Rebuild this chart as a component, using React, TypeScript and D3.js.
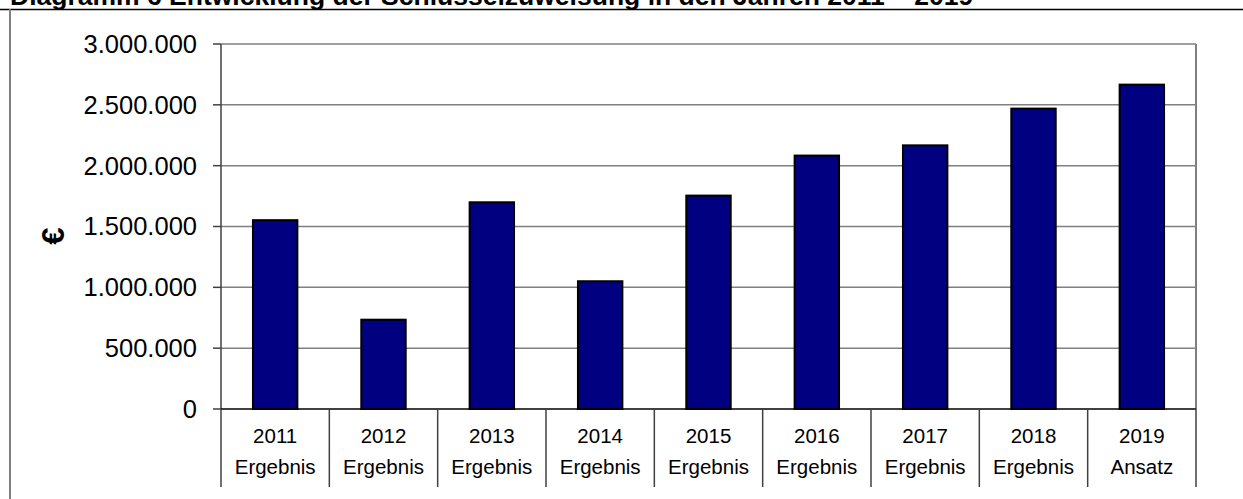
import React from "react";
import * as d3 from "d3";

// Schlüsselzuweisung per year (EUR)
const years = ["2011", "2012", "2013", "2014", "2015", "2016", "2017", "2018", "2019"];
const kinds = ["Ergebnis", "Ergebnis", "Ergebnis", "Ergebnis", "Ergebnis", "Ergebnis", "Ergebnis", "Ergebnis", "Ansatz"];
const values = [1552000, 734000, 1699000, 1050000, 1754000, 2083000, 2167000, 2469000, 2666000];
const yTicks = [0, 500000, 1000000, 1500000, 2000000, 2500000, 3000000];

const title = "Diagramm 6 Entwicklung der Schlüsselzuweisung in den Jahren 2011 – 2019";

const W = 1243;
const H = 499;
const plot = { left: 221, right: 1196, top: 44, bottom: 409 };

const fmt = (v: number) => d3.format(",")(v).replace(/,/g, ".");

export default function App() {
  const x = d3.scaleBand<string>().domain(years).range([plot.left, plot.right]).padding(0);
  const y = d3.scaleLinear().domain([0, 3000000]).range([plot.bottom, plot.top]);
  const step = x.step();
  const barW = step * 0.41;
  const font = "'Liberation Sans', Arial, sans-serif";

  return (
    <svg
      width={W}
      height={H}
      style={{ position: "absolute", left: 0, top: 0, background: "#fff" }}
      fontFamily={font}
    >
      {/* title, partly cut off at the top */}
      <text x={10} y={5} fontSize={26.5} fontWeight="bold" fill="#000">
        {title}
      </text>
      <line x1={0} x2={W} y1={9.5} y2={9.5} stroke="#000" strokeWidth={1.5} />
      <line x1={10} x2={10} y1={9} y2={H} stroke="#808080" strokeWidth={2} />

      {/* gridlines */}
      {yTicks.slice(1).map((t) => (
        <line key={t} x1={plot.left} x2={plot.right} y1={y(t)} y2={y(t)} stroke="#808080" strokeWidth={1.5} />
      ))}
      {/* plot border right */}
      <line x1={plot.right} x2={plot.right} y1={plot.top} y2={plot.bottom} stroke="#808080" strokeWidth={2} />

      {/* bars */}
      {years.map((yr, i) => {
        const cx = (x(yr) as number) + step / 2;
        return (
          <rect
            key={yr}
            x={cx - barW / 2}
            y={y(values[i])}
            width={barW}
            height={plot.bottom - y(values[i])}
            fill="#000080"
            stroke="#000"
            strokeWidth={2}
          />
        );
      })}

      {/* y axis */}
      <line x1={plot.left} x2={plot.left} y1={plot.top} y2={plot.bottom} stroke="#404040" strokeWidth={1.5} />
      {yTicks.map((t) => (
        <g key={t}>
          <line x1={plot.left - 8} x2={plot.left} y1={y(t)} y2={y(t)} stroke="#404040" strokeWidth={1.5} />
          <text x={197} y={y(t)} dy="0.35em" textAnchor="end" fontSize={25.5} fill="#000">
            {fmt(t)}
          </text>
        </g>
      ))}
      <text
        transform={`translate(64,236) rotate(-90)`}
        textAnchor="middle"
        fontSize={31}
        fontWeight="bold"
        fill="#000"
      >
        €
      </text>

      {/* x axis and category table */}
      <line x1={plot.left} x2={plot.right} y1={plot.bottom} y2={plot.bottom} stroke="#000" strokeWidth={1.5} />
      {years.concat(["end"]).map((yr, i) => {
        const xx = plot.left + i * step;
        return (
          <line key={yr} x1={xx} x2={xx} y1={plot.bottom} y2={487} stroke="#404040" strokeWidth={1.5} />
        );
      })}
      {years.map((yr, i) => {
        const cx = (x(yr) as number) + step / 2;
        return (
          <g key={yr}>
            <text x={cx} y={443} textAnchor="middle" fontSize={20.5} fill="#000">
              {yr}
            </text>
            <text x={cx} y={474} textAnchor="middle" fontSize={20.5} fill="#000">
              {kinds[i]}
            </text>
          </g>
        );
      })}
    </svg>
  );
}
